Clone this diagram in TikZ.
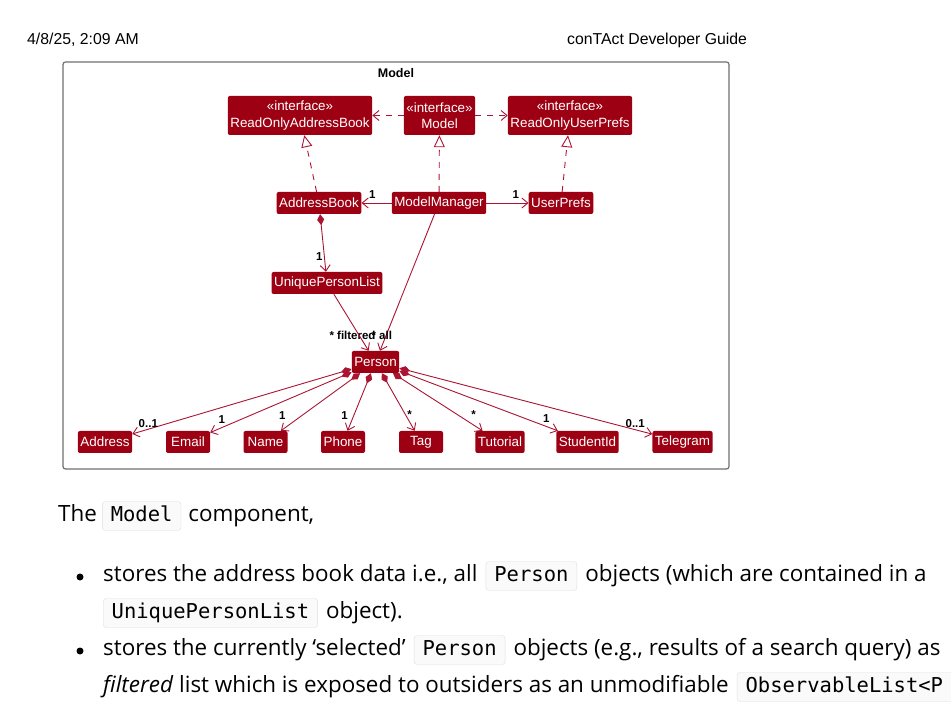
\documentclass[tikz,border=0pt]{standalone}
\usepackage{fontspec}
\setmainfont{Open Sans}
\newfontfamily\umlfont{Liberation Sans}
\newfontfamily\codefont{DejaVu Sans Mono}
\usetikzlibrary{arrows.meta,positioning}
\definecolor{umlfill}{RGB}{157,0,18}
\definecolor{umlline}{RGB}{170,20,50}
\definecolor{frameline}{RGB}{110,110,110}
\definecolor{codeborder}{RGB}{222,222,222}
\definecolor{codebg}{RGB}{250,250,250}

\begin{document}
\begin{tikzpicture}[x=1pt,y=-1pt,
	cls/.style={fill=umlfill, text=white, rounded corners=2pt, font=\umlfont\fontsize{13.4}{16.5}\selectfont, inner xsep=2.5pt, inner ysep=0pt, minimum height=22pt, minimum width=44pt},
	iface/.style={cls, align=center, minimum height=39pt},
	mult/.style={text=black, font=\umlfont\bfseries\fontsize{11.5}{12}\selectfont, inner sep=0pt},
	assoc/.style={umlline, line width=0.9pt, -{Straight Barb[length=6pt,width=10pt]}},
	dep/.style={umlline, line width=0.9pt, dash pattern=on 6pt off 6pt, -{Straight Barb[length=6pt,width=10pt]}},
	real/.style={umlline, line width=0.9pt, dash pattern=on 6pt off 6pt, -{Triangle[open,length=12pt,width=11pt]}},
	comp/.style={umlline, line width=0.9pt, {Diamond[length=11pt,width=7pt]}-{Straight Barb[length=6pt,width=10pt]}},
	body/.style={font=\fontsize{22.4}{27}\selectfont, inner sep=0pt, text height=16pt, text depth=5pt},
	code/.style={font=\codefont\fontsize{20.5}{24}\selectfont, draw=codeborder, fill=codebg, rounded corners=3pt, inner xsep=8.5pt, inner ysep=4pt, text height=16pt, text depth=5pt},
	dot/.style={circle, fill=black, inner sep=0pt, minimum size=7pt}]

	\path[use as bounding box] (0,0) rectangle (951,708);
	\clip (0,0) rectangle (951,708);

	% Kopregel
	\node[font=\umlfont\fontsize{15.8}{18}\selectfont, anchor=west, inner sep=0pt] (date) at (27,40) {4/8/25, 2:09 AM};
	\node[font=\umlfont\fontsize{15.8}{18}\selectfont, anchor=west, inner sep=0pt] (guide) at (567,40) {conTAct Developer Guide};

	% Kader
	\draw[frameline, line width=1.2pt, rounded corners=2.5pt] (63,62) rectangle (729,469);
	\node[font=\umlfont\bfseries\fontsize{12.5}{14}\selectfont] (frametitle) at (396,73) {Model};

	% Interfaces
	\node[iface] (roab) at (300,115.5) {«interface»\\ReadOnlyAddressBook};
	\node[iface] (model) at (439.5,115.5) {«interface»\\Model};
	\node[iface] (roup) at (570,115.5) {«interface»\\ReadOnlyUserPrefs};

	% Klassen
	\node[cls] (ab) at (319,203) {AddressBook};
	\node[cls] (mm) at (439,203) {ModelManager};
	\node[cls] (up) at (561,203) {UserPrefs};
	\node[cls] (upl) at (327,283) {UniquePersonList};
	\node[cls] (person) at (375.5,362) {Person};

	% Attributen van Person
	\node[cls] (address) at (105,442) {Address};
	\node[cls] (email) at (188,442) {Email};
	\node[cls] (name) at (265.5,442) {Name};
	\node[cls] (phone) at (343,442) {Phone};
	\node[cls] (tag) at (421,442) {Tag};
	\node[cls] (tutorial) at (500,442) {Tutorial};
	\node[cls] (studentid) at (587.5,442) {StudentId};
	\node[cls] (telegram) at (682.5,442) {Telegram};

	% Afhankelijkheden en realisaties
	\draw[dep] (model) -- (roab);
	\draw[dep] (model) -- (roup);
	\draw[real] (ab) -- (roab);
	\draw[real] (mm) -- (model);
	\draw[real] (up) -- (roup);

	% Associaties
	\draw[assoc] (mm) -- (ab) node[mult, at end, anchor=south west, xshift=7pt, yshift=4pt] {1};
	\draw[assoc] (mm) -- (up) node[mult, at end, anchor=south east, xshift=-9pt, yshift=4pt] {1};
	\draw[comp] (ab) -- (upl) node[mult, at end, anchor=south east, xshift=-3pt, yshift=11pt] {1};
	\draw[assoc] (mm) -- (person) node[mult, at end, anchor=south east, xshift=-4pt, yshift=11pt] {* filtered};
	\draw[assoc] (upl) -- (person) node[mult, at end, anchor=south west, xshift=2.5pt, yshift=11pt] {* all};

	% Compositie Person
	\draw[comp] (person) -- (address) node[mult, at end, anchor=south west, xshift=6pt, yshift=6pt] {0..1};
	\draw[comp] (person) -- (email) node[mult, at end, anchor=south west, xshift=8pt, yshift=8.5pt] {1};
	\draw[comp] (person) -- (name) node[mult, at end, anchor=south, xshift=1.5pt, yshift=11pt] {1};
	\draw[comp] (person) -- (phone) node[mult, at end, anchor=south, xshift=-3pt, yshift=11pt] {1};
	\draw[comp] (person) -- (tag) node[mult, at end, anchor=south, xshift=-5pt, yshift=12pt] {*};
	\draw[comp] (person) -- (tutorial) node[mult, at end, anchor=south, xshift=-9pt, yshift=12pt] {*};
	\draw[comp] (person) -- (studentid) node[mult, at end, anchor=south, xshift=-11.5pt, yshift=8pt] {1};
	\draw[comp] (person) -- (telegram) node[mult, at end, anchor=south east, xshift=-7pt, yshift=6pt] {0..1};

	% Tekst onder het diagram
	\node[body, anchor=west] (the) at (58,516) {The};
	\node[code, right=5pt of the] (cmodel) {Model};
	\node[body, right=7pt of cmodel] (component) {component,};

	\node[dot] (bullet1) at (80,577) {};
	\node[body, anchor=west] (l1a) at (103,576) {stores the address book data i.e., all};
	\node[code, right=8pt of l1a] (l1b) {Person};
	\node[body, right=8pt of l1b] (l1c) {objects (which are contained in a};
	\node[code, anchor=west] (l2a) at (103,613) {UniquePersonList};
	\node[body, right=8pt of l2a] (l2b) {object).};

	\node[dot] (bullet2) at (80,651) {};
	\node[body, anchor=west] (l3a) at (103,650) {stores the currently ‘selected’};
	\node[code, right=8pt of l3a] (l3b) {Person};
	\node[body, right=8pt of l3b] (l3c) {objects (e.g., results of a search query) as};
	\node[body, anchor=west] (l4a) at (103,687) {\textit{filtered} list which is exposed to outsiders as an unmodifiable};
	\node[code, right=8pt of l4a, text width=260pt, align=left] (l4b) {ObservableList<P};

\end{tikzpicture}
\end{document}
